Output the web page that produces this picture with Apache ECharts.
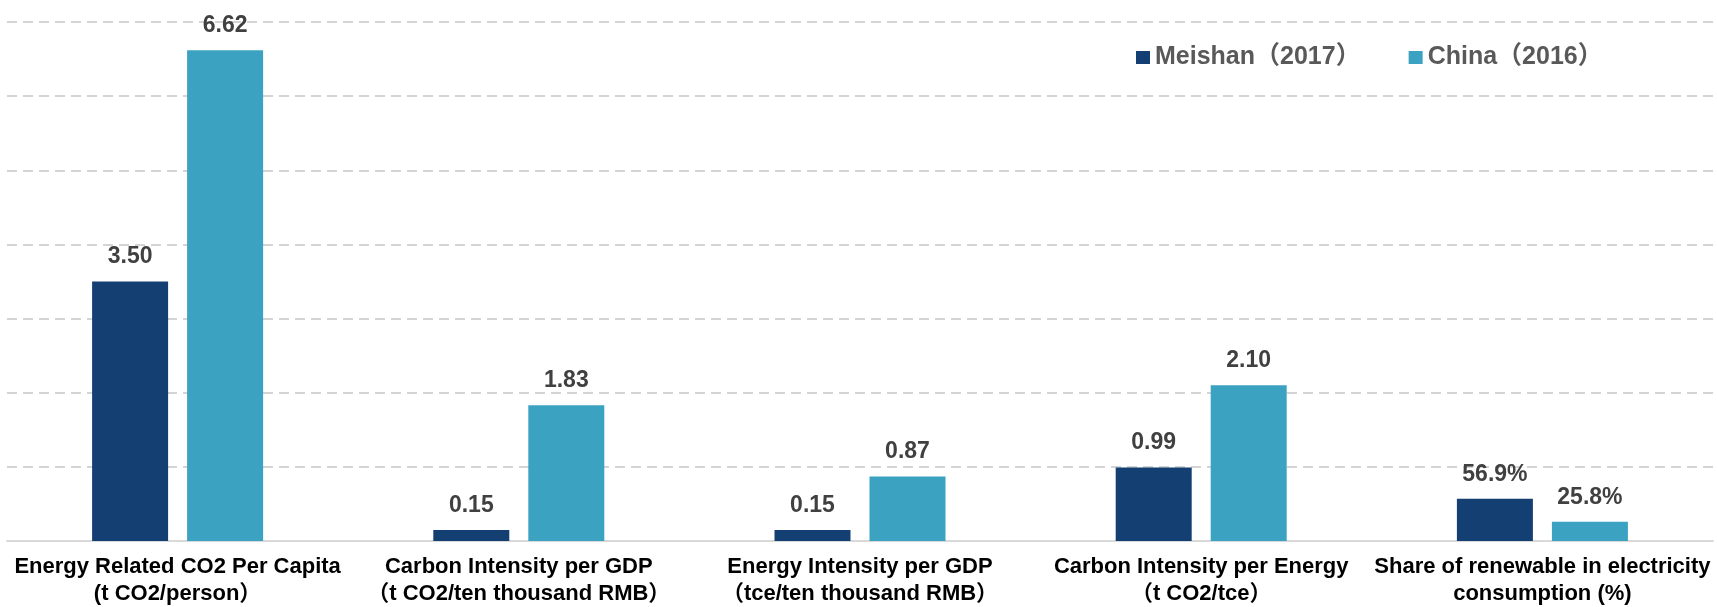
<!DOCTYPE html>
<html>
<head>
<meta charset="utf-8">
<title>Meishan vs China: carbon and energy indicators</title>
<script src="https://cdn.jsdelivr.net/npm/echarts@6/dist/echarts.min.js"></script>
<style>
  html, body { margin: 0; padding: 0; background: #ffffff; }
  #chart { width: 1717px; height: 607px; }
</style>
</head>
<body>
<div id="chart"></div>
<script>
// Indicator names (two lines each)
const categories = [
  'Energy Related CO2 Per Capita\n(t CO2/person）',
  'Carbon Intensity per GDP\n（t CO2/ten thousand RMB）',
  'Energy Intensity per GDP\n（tce/ten thousand RMB）',
  'Carbon Intensity per Energy\n（t CO2/tce）',
  'Share of renewable in electricity\nconsumption (%)'
];

// How each indicator's value is written on its label
const valueFormats = ['fixed2', 'fixed2', 'fixed2', 'fixed2', 'percent'];

const seriesNames = ['Meishan（2017）', 'China（2016）'];

// Meishan 2017 values (renewable share stored as a fraction)
const meishan = [3.50, 0.15, 0.15, 0.99, 0.569];
// China 2016 values
const china = [6.62, 1.83, 0.87, 2.10, 0.258];

const colors = ['#143f72', '#3ba3c1'];
const FONT = '"Liberation Sans", Arial, "Noto Sans CJK SC", sans-serif';

function formatValue(v, idx) {
  if (valueFormats[idx] === 'percent') return (v * 100).toFixed(1) + '%';
  return v.toFixed(2);
}

function makeSeries(name, data, color) {
  return {
    name: name,
    type: 'bar',
    data: data,
    barWidth: 76,
    barGap: '25%',
    itemStyle: { color: color },
    label: {
      show: true,
      position: 'top',
      distance: 13,
      fontFamily: FONT,
      fontSize: 23,
      fontWeight: 'bold',
      color: '#404040',
      formatter: p => formatValue(p.value, p.dataIndex)
    }
  };
}

const chart = echarts.init(document.getElementById('chart'), null, { renderer: 'canvas' });

chart.setOption({
  backgroundColor: '#ffffff',
  animation: false,
  color: colors,
  legend: {
    data: seriesNames,
    left: 1131,
    top: 40,
    itemWidth: 14,
    itemHeight: 13,
    itemGap: 48,
    icon: 'rect',
    textStyle: {
      fontFamily: FONT,
      fontSize: 25,
      fontWeight: 'bold',
      color: '#595959'
    }
  },
  grid: {
    left: 7,
    right: 4,
    top: 22,
    bottom: 63,
    containLabel: false
  },
  xAxis: {
    type: 'category',
    data: categories,
    axisTick: { show: false },
    axisLine: { show: true, lineStyle: { color: '#d9d9d9', width: 2 } },
    axisLabel: {
      interval: 0,
      margin: 12,
      fontFamily: FONT,
      fontSize: 22,
      fontWeight: 'bold',
      lineHeight: 27,
      color: '#000000',
      align: 'center'
    }
  },
  yAxis: {
    type: 'value',
    min: 0,
    max: 7,
    interval: 1,
    axisLabel: { show: false },
    axisLine: { show: false },
    axisTick: { show: false },
    splitLine: {
      show: true,
      lineStyle: { color: '#d4d4d4', width: 2, type: [10, 6] }
    }
  },
  series: [
    makeSeries(seriesNames[0], meishan, colors[0]),
    makeSeries(seriesNames[1], china, colors[1])
  ]
});
</script>
</body>
</html>
